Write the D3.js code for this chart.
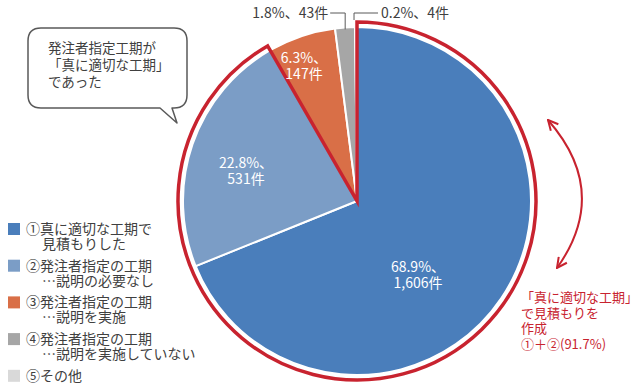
<!DOCTYPE html>
<html><head><meta charset="utf-8">
<script src="https://cdn.jsdelivr.net/npm/d3@7"></script>
<style>
html,body{margin:0;padding:0;background:#fff;}
svg{display:block;font-family:"Noto Sans CJK JP","Noto Sans",sans-serif;}
</style></head>
<body>
<svg id="chart" width="640" height="390"></svg>
<script>
// ---- data ----
const categories = ["①真に適切な工期で見積もりした", "②発注者指定の工期…説明の必要なし", "③発注者指定の工期…説明を実施", "④発注者指定の工期…説明を実施していない", "⑤その他"];
const legendLine1 = ["①真に適切な工期で", "②発注者指定の工期", "③発注者指定の工期", "④発注者指定の工期", "⑤その他"];
const legendLine2 = ["見積もりした", "…説明の必要なし", "…説明を実施", "…説明を実施していない", ""];
const counts = [1606, 531, 147, 43, 4];
const percents = [68.9, 22.8, 6.3, 1.8, 0.2];
const colors = ["#4a7ebb", "#7b9dc6", "#d96f47", "#a6a6a6", "#d9d9d9"];
const bubbleText = ["発注者指定工期が", "「真に適切な工期」", "であった"];
const noteText = ["「真に適切な工期」", "で見積もりを", "作成", "①＋②(91.7%)"];

// ---- layout ----
const svg = d3.select("#chart");
const cx = 357, cy = 201, R = 174;
const red = "#c8232f", txt = "#404040";

const pie = d3.pie().sort(null).value(d => d)(counts);
const arc = d3.arc().innerRadius(0).outerRadius(R);
const g = svg.append("g").attr("transform", `translate(${cx},${cy})`);

g.selectAll("path.slice").data(pie).enter().append("path")
  .attr("class", "slice")
  .attr("d", arc)
  .attr("fill", (d, i) => colors[i])
  .attr("stroke", "#fff").attr("stroke-width", 2).attr("stroke-linejoin", "round");

// red outline around slices 1+2
const endA = pie[1].endAngle;
g.append("path")
  .attr("d", d3.arc().innerRadius(0).outerRadius(R + 5)({startAngle: 0, endAngle: endA}))
  .attr("fill", "none").attr("stroke", red).attr("stroke-width", 3.5).attr("stroke-linejoin", "miter");

// inner labels
const innerOffsets = [[61, 74], [-111, -30], [-53, -135]];
pie.slice(0, 3).forEach((d, i) => {
  const [ox, oy] = innerOffsets[i];
  const t = g.append("text").attr("x", ox).attr("y", oy).attr("fill", "#fff")
    .attr("font-size", 14).attr("text-anchor", "middle");
  t.append("tspan").attr("x", ox).attr("dy", "-0.25em").text(percents[i].toFixed(1) + "%、");
  t.append("tspan").attr("x", ox).attr("dy", "1.2em").text(d3.format(",")(counts[i]) + "件");
});

// outer labels with leaders
function outerPoint(d, r) {
  const a = (d.startAngle + d.endAngle) / 2;
  return [Math.sin(a) * r, -Math.cos(a) * r];
}
const p3 = outerPoint(pie[3], R - 2);
const p4 = outerPoint(pie[4], R + 7);
const ly = -188;
g.append("polyline").attr("points", `${p3[0]},${p3[1]} ${p3[0]},${ly} ${p3[0]-15},${ly}`)
  .attr("fill", "none").attr("stroke", "#595959").attr("stroke-width", 1);
g.append("text").attr("x", p3[0] - 17).attr("y", ly).attr("dy", "0.35em")
  .attr("text-anchor", "end").attr("font-size", 14).attr("fill", txt)
  .text(percents[3].toFixed(1) + "%、" + counts[3] + "件");
g.append("polyline").attr("points", `${p4[0]-2},${p4[1]} ${p4[0]-2},${ly} ${p4[0]+22},${ly}`)
  .attr("fill", "none").attr("stroke", "#595959").attr("stroke-width", 1);
g.append("text").attr("x", p4[0] + 25).attr("y", ly).attr("dy", "0.35em")
  .attr("text-anchor", "start").attr("font-size", 14).attr("fill", txt)
  .text(percents[4].toFixed(1) + "%、" + counts[4] + "件");

// legend
const lg = svg.append("g");
legendLine1.forEach((l, i) => {
  const y = 229 + i * 36.7;
  lg.append("rect").attr("x", 8).attr("y", y - 6).attr("width", 12).attr("height", 12).attr("fill", colors[i]);
  const t = lg.append("text").attr("x", 26).attr("y", y).attr("dy", "0.35em").attr("font-size", 14).attr("fill", txt);
  t.append("tspan").attr("x", 26).text(l);
  if (legendLine2[i]) {
    t.append("tspan").attr("x", 42).attr("dy", 15).text(legendLine2[i]);
  }
});

// speech bubble
const bx0 = 28, by0 = 28, bx1 = 187, by1 = 108, br = 13;
const bubblePath = `M${bx0+br},${by0} L${bx1-br},${by0} Q${bx1},${by0} ${bx1},${by0+br} L${bx1},${by1-br} Q${bx1},${by1} ${bx1-br},${by1}
 L${172},${by1} L177,123 L160,${by1} L${bx0+br},${by1} Q${bx0},${by1} ${bx0},${by1-br} L${bx0},${by0+br} Q${bx0},${by0} ${bx0+br},${by0} Z`;
svg.append("path").attr("d", bubblePath).attr("fill", "#fff").attr("stroke", "#595959").attr("stroke-width", 1.5).attr("stroke-linejoin", "round");
const bt = svg.append("text").attr("x", 48).attr("y", 53).attr("dy", "0.35em")
  .attr("font-size", 13.5).attr("fill", txt);
bubbleText.forEach((t, i) => {
  bt.append("tspan").attr("x", 48).attr("dy", i === 0 ? 0 : 17).text(t);
});

// double-headed arrow
const defs = svg.append("defs");
defs.append("marker").attr("id", "ah").attr("viewBox", "0 0 12 12").attr("refX", 11).attr("refY", 6)
  .attr("markerWidth", 12).attr("markerHeight", 12).attr("markerUnits", "userSpaceOnUse")
  .attr("orient", "auto-start-reverse")
  .append("path").attr("d", "M1,1 L11,6 L1,11").attr("fill", "none").attr("stroke", red).attr("stroke-width", 2);
svg.append("path").attr("d", "M548,120 Q611,192 557,268").attr("fill", "none")
  .attr("stroke", red).attr("stroke-width", 2)
  .attr("marker-start", "url(#ah)").attr("marker-end", "url(#ah)");

const nt = svg.append("text").attr("x", 521).attr("y", 302).attr("dy", "0.35em")
  .attr("font-size", 13).attr("fill", red);
noteText.forEach((t, i) => {
  nt.append("tspan").attr("x", 521).attr("dy", i === 0 ? 0 : 15.7).text(t);
});
</script>
</body></html>
